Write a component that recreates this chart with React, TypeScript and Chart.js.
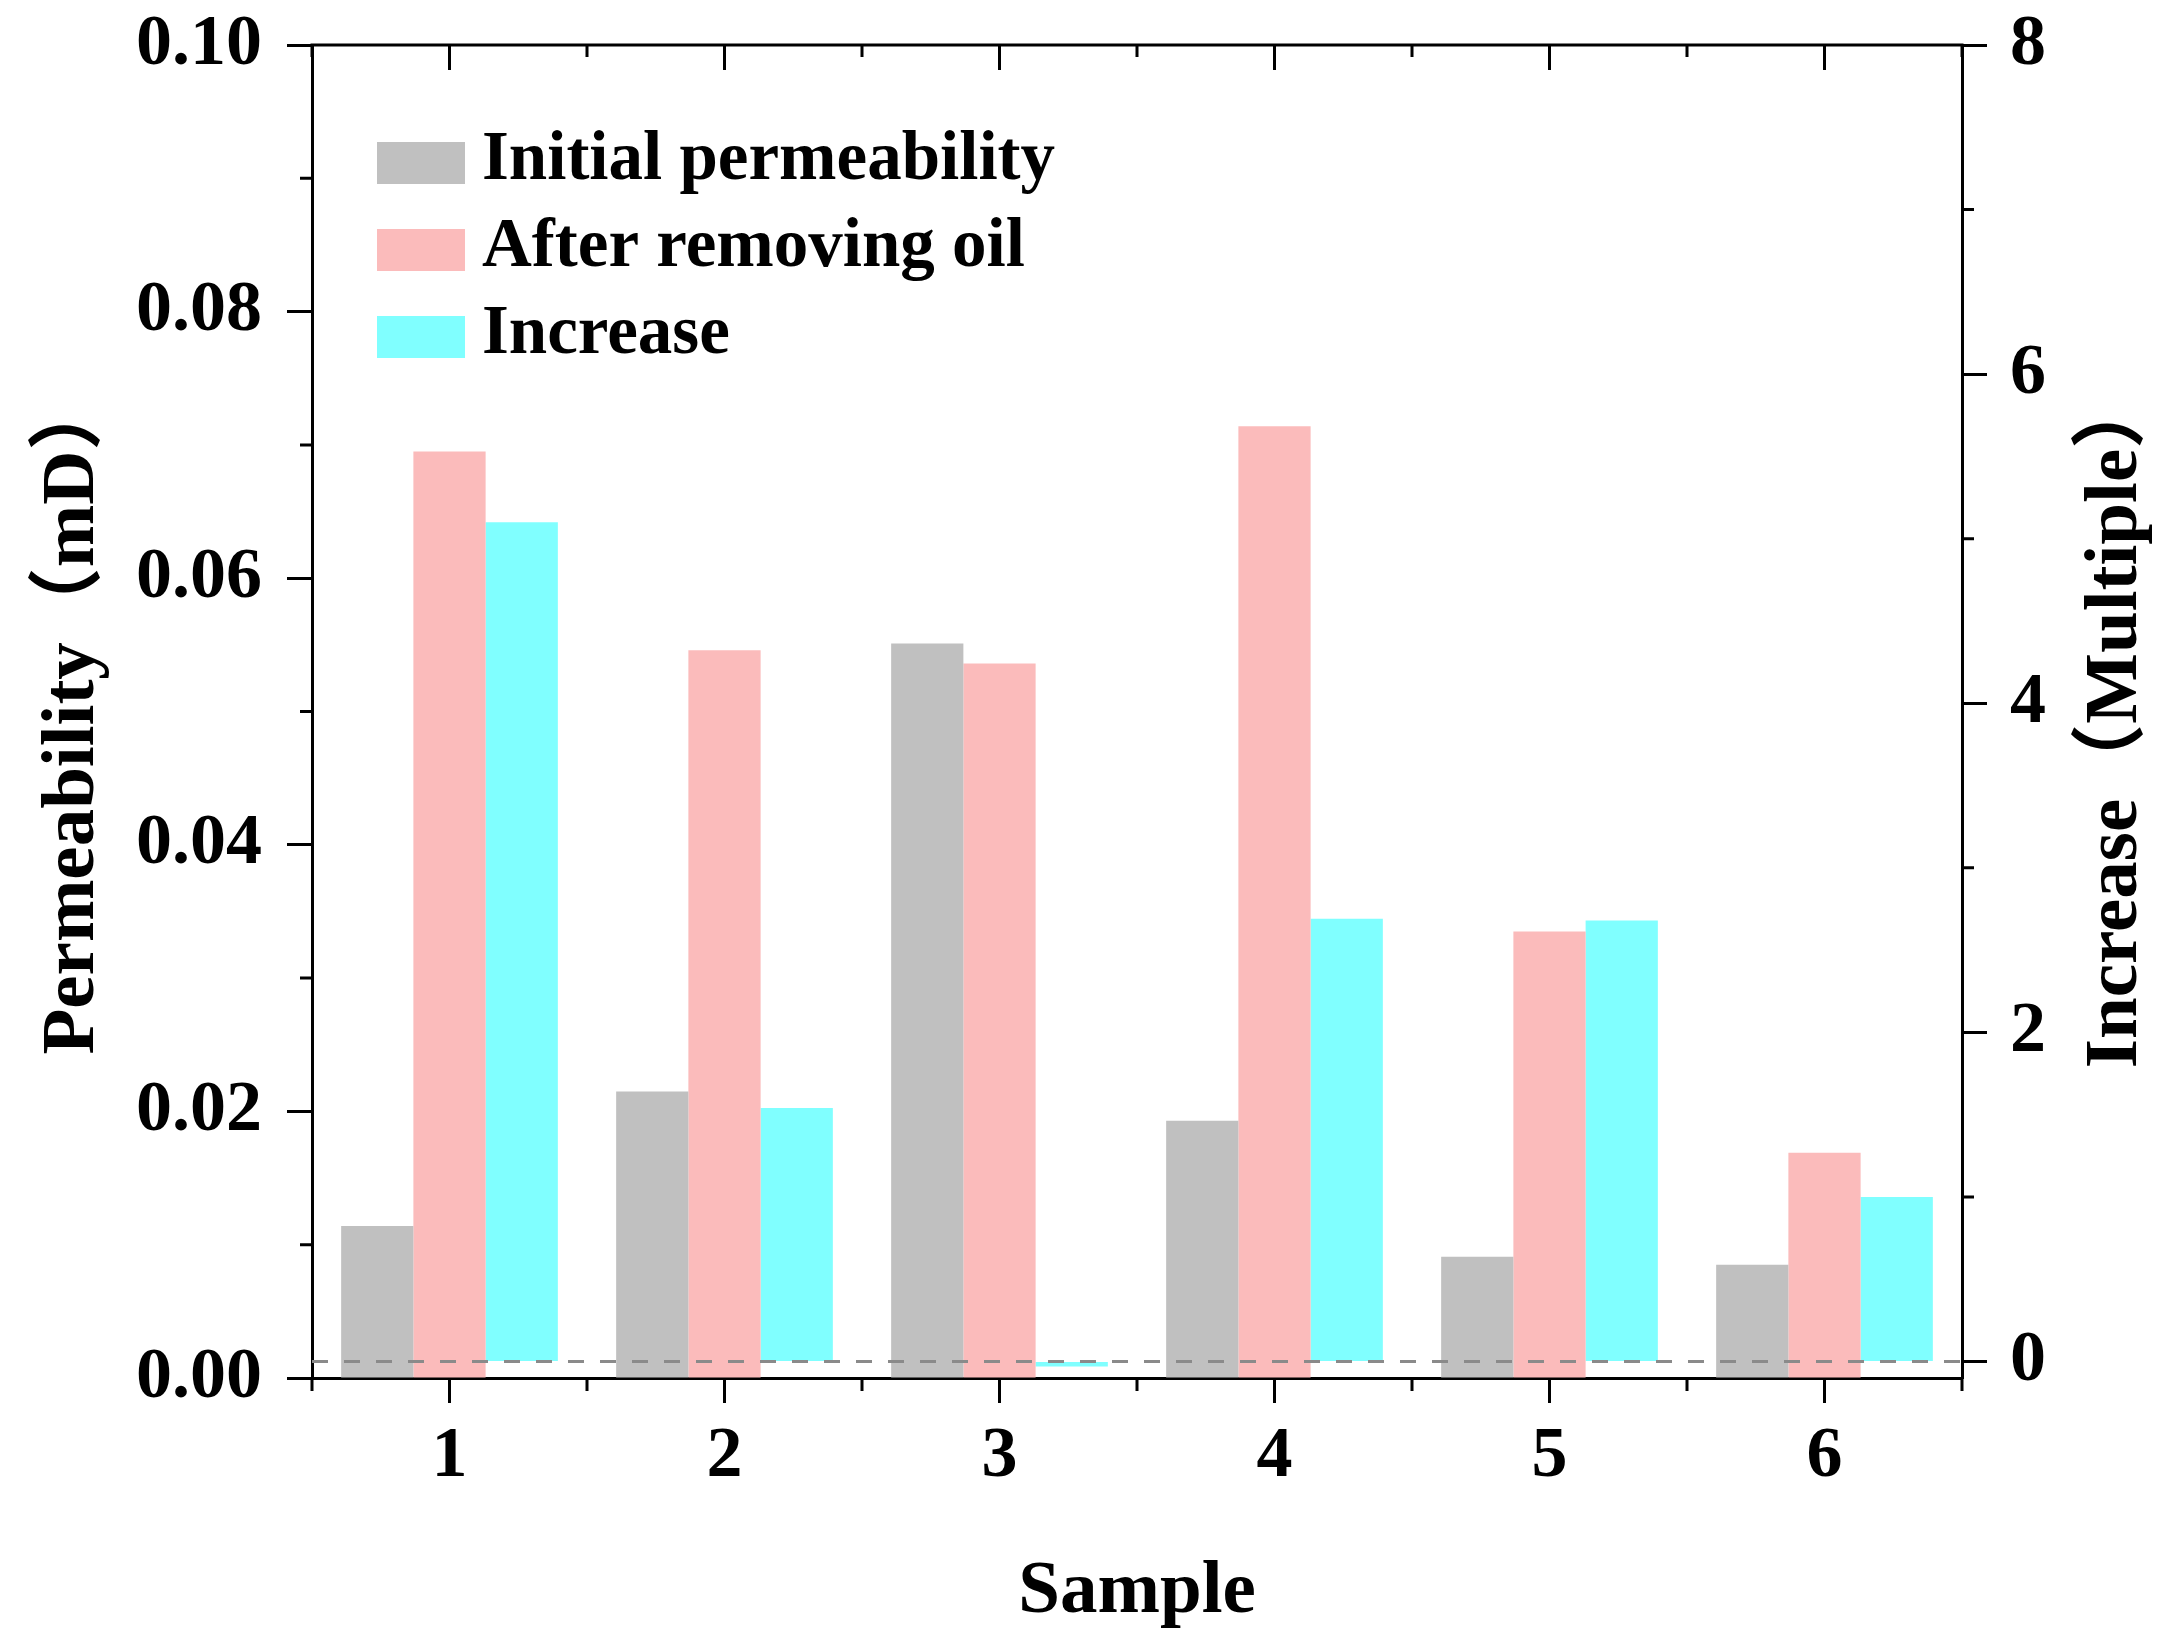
import React, { useEffect, useRef } from 'react';
import { Chart, registerables } from 'chart.js';

Chart.register(...registerables);

const samples = ['1', '2', '3', '4', '5', '6'];
const initialPerm = [0.0114, 0.0215, 0.0551, 0.0193, 0.0091, 0.0085];
const afterOil = [0.0695, 0.0546, 0.0536, 0.0714, 0.0335, 0.0169];
const increase = [5.1, 1.54, -0.03, 2.69, 2.68, 1.0];
const leftTicks = [0, 0.02, 0.04, 0.06, 0.08, 0.1];
const leftMinor = [0.01, 0.03, 0.05, 0.07, 0.09];
const rightTicks = [0, 2, 4, 6, 8];
const rightMinor = [1, 3, 5, 7];
const seriesLabels = ['Initial permeability', 'After removing oil', 'Increase'];
const seriesColors = ['#C0C0C0', '#FBBBBB', '#80FFFF'];
const xTitle = 'Sample';
const yLeftTitle = 'Permeability（mD）';
const yRightTitle = 'Increase（Multiple）';

const FONT = "'Liberation Serif', 'Times New Roman', 'Noto Sans CJK SC', serif";

const decorPlugin = {
  id: 'decor',
  afterDraw(chart: any) {
    const { ctx, chartArea, scales } = chart;
    const { left, right, top, bottom } = chartArea;
    const x = scales.x;
    const yL = scales.y;
    const yR = scales.yR;
    ctx.save();

    // dashed zero line of right axis
    const z = yR.getPixelForValue(0);
    ctx.strokeStyle = '#8a8a8a';
    ctx.lineWidth = 3;
    ctx.setLineDash([16, 16]);
    ctx.beginPath();
    ctx.moveTo(left, z);
    ctx.lineTo(right, z);
    ctx.stroke();
    ctx.setLineDash([]);

    ctx.strokeStyle = '#000';
    ctx.lineWidth = 3;
    // top axis line
    ctx.beginPath();
    ctx.moveTo(left - 1.5, top);
    ctx.lineTo(right + 1.5, top);
    ctx.stroke();

    // x ticks: top inward major/minor; bottom minor outward
    const n = samples.length;
    const centers: number[] = [];
    for (let i = 0; i < n; i++) centers.push(x.getPixelForValue(i));
    const halves: number[] = [left];
    for (let i = 0; i < n - 1; i++) halves.push((centers[i] + centers[i + 1]) / 2);
    halves.push(right);
    ctx.beginPath();
    centers.forEach((c) => {
      ctx.moveTo(c, top);
      ctx.lineTo(c, top + 25);
    });
    halves.forEach((h) => {
      ctx.moveTo(h, top);
      ctx.lineTo(h, top + 12);
      ctx.moveTo(h, bottom);
      ctx.lineTo(h, bottom + 13);
    });
    // left minor ticks
    leftMinor.forEach((v) => {
      const p = yL.getPixelForValue(v);
      ctx.moveTo(left, p);
      ctx.lineTo(left - 12, p);
    });
    // right minor ticks
    rightMinor.forEach((v) => {
      const p = yR.getPixelForValue(v);
      ctx.moveTo(right, p);
      ctx.lineTo(right + 12, p);
    });
    ctx.stroke();

    // legend
    const ds = chart.data.datasets;
    ctx.font = `bold 69px ${FONT}`;
    ctx.textAlign = 'left';
    ctx.textBaseline = 'alphabetic';
    ds.forEach((d: any, i: number) => {
      const cy = 163 + 87 * i;
      ctx.fillStyle = d.backgroundColor;
      ctx.fillRect(377, cy - 21, 88, 42);
      ctx.fillStyle = '#000';
      ctx.fillText(d.label, 482, cy + 16);
    });

    // axis titles
    ctx.font = `bold 75px ${FONT}`;
    ctx.textAlign = 'center';
    ctx.fillStyle = '#000';
    ctx.fillText(xTitle, (left + right) / 2, 1612);

    ctx.save();
    ctx.translate(93, 715);
    ctx.rotate(-Math.PI / 2);
    ctx.fillText(yLeftTitle, 0, 0);
    ctx.restore();

    ctx.save();
    ctx.translate(2136, 721);
    ctx.rotate(-Math.PI / 2);
    ctx.fillText(yRightTitle, 0, 0);
    ctx.restore();

    ctx.restore();
  },
};

const noPad = (s: any) => {
  s.paddingTop = 0;
  s.paddingBottom = 0;
  s.paddingLeft = 0;
  s.paddingRight = 0;
};

export default function App() {
  const ref = useRef<HTMLCanvasElement | null>(null);

  useEffect(() => {
    if (!ref.current) return;
    const tickFont = { family: FONT, size: 72, weight: 'bold' as const };
    const chart = new Chart(ref.current, {
      type: 'bar',
      data: {
        labels: samples,
        datasets: [
          { label: seriesLabels[0], data: initialPerm, backgroundColor: seriesColors[0], yAxisID: 'y', borderWidth: 0 },
          { label: seriesLabels[1], data: afterOil, backgroundColor: seriesColors[1], yAxisID: 'y', borderWidth: 0 },
          { label: seriesLabels[2], data: increase, backgroundColor: seriesColors[2], yAxisID: 'yR', borderWidth: 0 },
        ],
      },
      options: {
        responsive: false,
        animation: false,
        devicePixelRatio: 1,
        layout: { autoPadding: false, padding: { top: 45, left: 0, right: 0, bottom: 0 } },
        datasets: {
          bar: { categoryPercentage: 0.788, barPercentage: 1 },
        },
        plugins: {
          legend: { display: false },
          tooltip: { enabled: false },
          title: { display: false },
        },
        scales: {
          x: {
            type: 'category',
            position: 'bottom',
            offset: true,
            grid: {
              display: true,
              offset: false,
              drawOnChartArea: false,
              drawTicks: true,
              tickLength: 25,
              tickWidth: 3,
              tickColor: '#000',
              color: '#000',
            },
            border: { display: true, color: '#000', width: 3 },
            ticks: { color: '#000', font: tickFont, padding: 11, maxRotation: 0, autoSkip: false },
            afterFit: (s: any) => {
              s.height = 273;
              noPad(s);
            },
          },
          y: {
            type: 'linear',
            position: 'left',
            min: 0,
            max: 0.1,
            grid: {
              display: true,
              drawOnChartArea: false,
              drawTicks: true,
              tickLength: 25,
              tickWidth: 3,
              tickColor: '#000',
              color: '#000',
            },
            border: { display: true, color: '#000', width: 3 },
            ticks: {
              color: '#000',
              font: tickFont,
              padding: 25,
              callback: (v: any) => Number(v).toFixed(2),
            },
            afterBuildTicks: (s: any) => {
              s.ticks = leftTicks.map((v) => ({ value: v }));
            },
            afterFit: (s: any) => {
              s.width = 312;
              noPad(s);
            },
          },
          yR: {
            type: 'linear',
            position: 'right',
            min: -0.1,
            max: 8,
            grid: {
              display: true,
              drawOnChartArea: false,
              drawTicks: true,
              tickLength: 25,
              tickWidth: 3,
              tickColor: '#000',
              color: '#000',
            },
            border: { display: true, color: '#000', width: 3 },
            ticks: {
              color: '#000',
              font: tickFont,
              padding: 23,
              callback: (v: any) => String(v),
            },
            afterBuildTicks: (s: any) => {
              s.ticks = rightTicks.map((v) => ({ value: v }));
            },
            afterFit: (s: any) => {
              s.width = 198;
              noPad(s);
            },
          },
        },
      },
      plugins: [decorPlugin],
    });
    return () => chart.destroy();
  }, []);

  return (
    <div style={{ position: 'fixed', left: 0, top: 0, width: 2160, height: 1651, background: '#fff' }}>
      <canvas ref={ref} width={2160} height={1651} style={{ display: 'block', width: 2160, height: 1651 }} />
    </div>
  );
}
